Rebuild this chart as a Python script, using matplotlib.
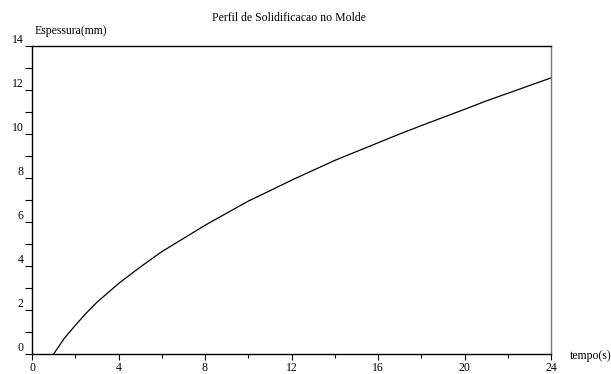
import matplotlib
matplotlib.use("Agg")
from matplotlib import pyplot as plt
from matplotlib.ticker import MultipleLocator

# tempo (s) vs espessura (mm)
tempo = [1, 1.5, 2, 2.5, 3, 4, 5, 6, 7, 8, 9, 10, 11, 12, 13, 14, 15, 16,
         17, 18, 19, 20, 21, 22, 23, 24]
espessura = [0.0, 0.72, 1.3, 1.85, 2.35, 3.2, 3.95, 4.65, 5.25, 5.85, 6.4,
             6.95, 7.42, 7.9, 8.35, 8.8, 9.2, 9.6, 10.0, 10.38, 10.75,
             11.12, 11.5, 11.85, 12.2, 12.55]

plt.rcParams['font.family'] = ['Liberation Serif', 'DejaVu Serif']
plt.rcParams['font.size'] = 8.5

fig = plt.figure(figsize=(6.11, 3.74), dpi=100)
ax = fig.add_axes([32/611, 20/374, 519/611, 308/374])

ax.plot(tempo, espessura, color='black', lw=0.9)

ax.set_xlim(0, 24)
ax.set_ylim(0, 14)
ax.xaxis.set_major_locator(MultipleLocator(4))
ax.xaxis.set_minor_locator(MultipleLocator(2))
ax.yaxis.set_major_locator(MultipleLocator(2))
ax.yaxis.set_minor_locator(MultipleLocator(1))

ax.tick_params(axis='x', which='major', direction='out', length=4, width=0.8, pad=2)
ax.tick_params(axis='x', which='minor', direction='out', length=3, width=0.8)
ax.tick_params(axis='y', which='both', direction='out', length=5, width=0.8, pad=1)
for lbl in ax.get_yticklabels():
    lbl.set_verticalalignment('bottom')

for s in ['left', 'bottom', 'top']:
    ax.spines[s].set_linewidth(1.0)
    ax.spines[s].set_color('black')
ax.spines['right'].set_color('#777777')
ax.spines['right'].set_linewidth(1.0)

fig.text(289/611, 1 - 18/374, 'Perfil de Solidificacao no Molde', ha='center', va='center')
fig.text(35/611, 1 - 31/374, 'Espessura(mm)', ha='left', va='center')
fig.text(570/611, 1 - 356/374, 'tempo(s)', ha='left', va='center')

fig.savefig('out.png', dpi=100)
